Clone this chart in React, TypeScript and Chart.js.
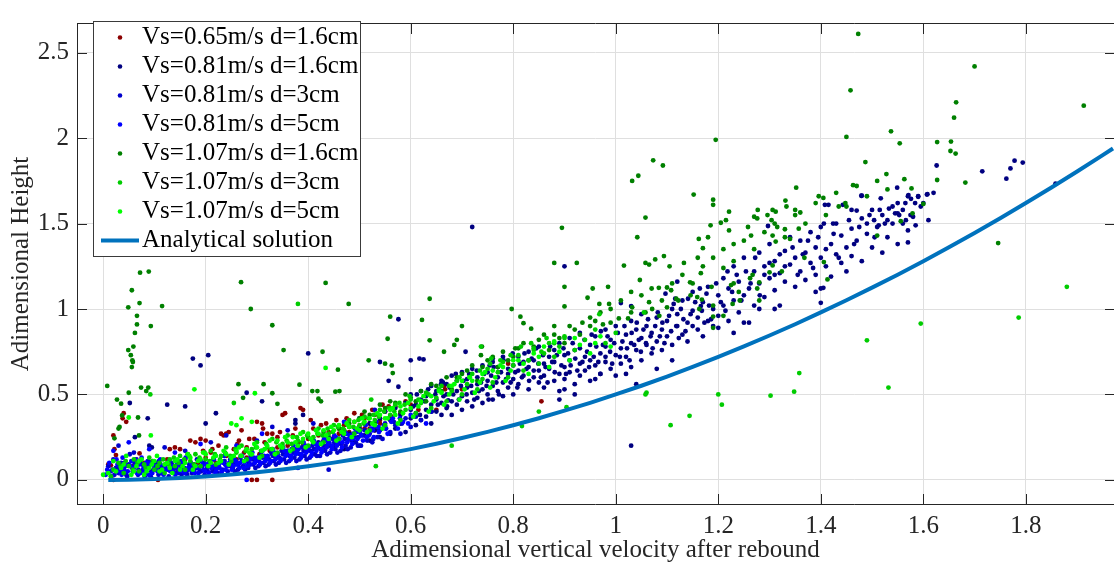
import { useEffect, useRef } from "react";
import { Chart, registerables } from "chart.js";

Chart.register(...registerables);

// ---------- tick values / labels ----------
const xTickValues = [0, 0.2, 0.4, 0.6, 0.8, 1, 1.2, 1.4, 1.6, 1.8];
const xTickLabels = ["0", "0.2", "0.4", "0.6", "0.8", "1", "1.2", "1.4", "1.6", "1.8"];
const yTickValues = [0, 0.5, 1, 1.5, 2, 2.5];
const yTickLabels = ["0", "0.5", "1", "1.5", "2", "2.5"];

const xTitle = "Adimensional vertical velocity after rebound";
const yTitle = "Adimensional Height";

const seriesLabels = [
  "Vs=0.65m/s d=1.6cm",
  "Vs=0.81m/s d=1.6cm",
  "Vs=0.81m/s d=3cm",
  "Vs=0.81m/s d=5cm",
  "Vs=1.07m/s d=1.6cm",
  "Vs=1.07m/s d=3cm",
  "Vs=1.07m/s d=5cm",
];
const lineLabel = "Analytical solution";

// ---------- data ----------
const vs065d16: number[][] = [
[0.01,0.09],[0.015,0.085],[0.02,0.26],[0.022,0.18],[0.025,0.145],[0.02,0.0],[0.04,0.39],[0.045,0.34],[0.038,0.36],[0.056,0.08],[0.065,0.12],[0.071,0.155],[0.08,0.1],[0.09,0.105],[0.1,0.095],[0.107,0.0],[0.12,0.07],[0.13,0.18],[0.14,0.19],[0.15,0.18],[0.145,0.05],[0.16,0.12],[0.17,0.23],[0.18,0.22],[0.185,0.1],[0.19,0.24],[0.2,0.23],[0.2,0.13],[0.21,0.16],[0.213,0.18],[0.22,0.1],[0.23,0.27],[0.235,0.26],[0.24,0.27],[0.245,0.28],[0.24,0.14],[0.25,0.08],[0.26,0.12],[0.265,0.23],[0.27,0.29],[0.275,0.16],[0.28,0.13],[0.285,0.24],[0.29,0.0],[0.295,0.24],[0.3,0.34],[0.3,0.0],[0.305,0.15],[0.31,0.33],[0.312,0.3],[0.32,0.27],[0.325,0.17],[0.33,0.27],[0.33,0.0],[0.335,0.14],[0.34,0.19],[0.35,0.38],[0.355,0.39],[0.355,0.16],[0.36,0.2],[0.365,0.14],[0.37,0.18],[0.38,0.22],[0.385,0.42],[0.39,0.41],[0.39,0.21],[0.395,0.19],[0.4,0.24],[0.405,0.35],[0.41,0.21],[0.42,0.26],[0.43,0.23],[0.44,0.28],[0.44,0.2],[0.45,0.25],[0.46,0.3],[0.46,0.27],[0.47,0.29],[0.47,0.32],[0.48,0.31],[0.48,0.28],[0.49,0.34],[0.5,0.29],[0.5,0.31],[0.51,0.3],[0.51,0.36],[0.52,0.3],[0.52,0.33],[0.53,0.29],[0.53,0.38],[0.54,0.33],[0.54,0.35],[0.55,0.4],[0.557,0.43],[0.56,0.37],[0.563,0.37],[0.57,0.43],[0.58,0.39],[0.59,0.46],[0.6,0.44],[0.615,0.41],[0.65,0.41],[0.665,0.55],[0.667,0.53],[0.7,0.53],[0.79,0.68],[0.855,0.46],
[0.105,0.06],[0.125,0.12],[0.155,0.1],[0.165,0.15],[0.175,0.08],[0.195,0.17],[0.215,0.12],[0.225,0.2],[0.255,0.18],[0.262,0.21],[0.28,0.19],[0.315,0.22],[0.34,0.25],[0.345,0.28],[0.37,0.26],[0.375,0.3],[0.41,0.3],[0.425,0.32],[0.435,0.33],[0.455,0.35],[0.475,0.36],[0.49,0.39],[0.505,0.38],[0.525,0.41],[0.545,0.44],[0.465,0.21],[0.43,0.19]
];

const vs081d16: number[][] = [
[0.052,0.45],[0.087,0.36],[0.062,0.25],[0.09,0.2],[0.095,0.19],[0.125,0.44],[0.16,0.43],[0.175,0.71],[0.19,0.67],[0.205,0.73],[0.2,0.33],[0.22,0.39],[0.28,0.51],[0.31,0.46],[0.375,0.35],[0.375,0.33],[0.39,0.38],[0.4,0.74],
[0.3,0.12],[0.33,0.15],[0.36,0.17],[0.38,0.2],[0.4,0.19],[0.42,0.22],[0.43,0.18],[0.44,0.25],
[0.45,0.2],[0.46,0.24],[0.47,0.18],[0.48,0.27],[0.49,0.22],[0.5,0.3],[0.5,0.2],[0.51,0.26],[0.52,0.33],[0.52,0.23],[0.53,0.29],[0.54,0.36],[0.54,0.25],[0.55,0.31],[0.55,0.4],
[0.56,0.27],[0.56,0.35],[0.57,0.42],[0.57,0.3],[0.58,0.38],[0.58,0.33],[0.59,0.45],[0.59,0.28],[0.6,0.36],[0.6,0.41],[0.6,0.5],[0.61,0.32],[0.61,0.44],[0.61,0.39],[0.62,0.47],[0.62,0.35],[0.62,0.52],[0.63,0.41],[0.63,0.37],[0.63,0.49],[0.64,0.44],[0.64,0.55],[0.64,0.33],[0.65,0.4],[0.65,0.47],[0.65,0.52],[0.66,0.38],[0.66,0.58],[0.66,0.45],[0.67,0.5],
[0.67,0.42],[0.67,0.56],[0.68,0.46],[0.68,0.61],[0.68,0.38],[0.69,0.52],[0.69,0.44],[0.69,0.58],[0.7,0.49],[0.7,0.41],[0.7,0.63],[0.71,0.54],[0.71,0.46],[0.71,0.59],[0.72,0.51],[0.72,0.43],[0.72,0.65],[0.73,0.56],[0.73,0.48],[0.73,0.6],[0.74,0.53],[0.74,0.45],[0.74,0.67],[0.75,0.58],[0.75,0.5],[0.75,0.63],[0.76,0.55],[0.76,0.47],[0.76,0.69],[0.77,0.6],[0.77,0.52],[0.77,0.66],[0.78,0.57],[0.78,0.49],[0.78,0.72],
[0.79,0.62],[0.79,0.54],[0.8,0.67],[0.8,0.59],[0.8,0.5],[0.81,0.64],[0.81,0.72],[0.81,0.56],[0.82,0.61],[0.82,0.69],[0.83,0.53],[0.83,0.66],[0.83,0.75],[0.84,0.6],[0.84,0.7],[0.85,0.57],[0.85,0.64],[0.85,0.78],[0.86,0.68],[0.86,0.61],[0.86,0.54],[0.87,0.72],[0.87,0.65],[0.88,0.58],[0.88,0.76],[0.88,0.69],[0.89,0.62],[0.89,0.8],[0.89,0.52],[0.9,0.66],[0.9,0.73],[0.9,0.59],[0.91,0.7],[0.91,0.83],[0.91,0.63],[0.92,0.56],[0.92,0.76],[0.93,0.68],[0.93,0.61],[0.93,0.86],
[0.94,0.72],[0.94,0.64],[0.95,0.79],[0.95,0.58],[0.95,0.7],[0.96,0.67],[0.96,0.84],[0.97,0.74],[0.97,0.62],[0.98,0.78],[0.98,0.69],[0.98,0.88],[0.99,0.65],[0.99,0.82],[1.0,0.73],[1.0,0.9],[1.0,0.61],[1.01,0.77],[1.01,0.68],[1.02,0.85],[1.02,0.72],[1.03,0.8],[1.03,0.93],[1.03,0.66],[1.04,0.76],[1.04,0.88],[1.05,0.7],[1.05,0.83],[1.05,0.97],[1.06,0.79],[1.06,0.9],[1.07,0.74],[1.07,0.86],[1.08,0.95],[1.08,0.81],
[1.09,0.88],[1.09,0.76],[1.1,0.93],[1.1,0.84],[1.11,1.0],[1.11,0.79],[1.12,0.9],[1.12,0.97],[1.13,0.85],[1.13,1.05],[1.14,0.92],[1.14,0.81],[1.15,0.99],[1.15,1.1],[1.16,0.88],[1.16,0.95],[1.17,1.04],[1.17,0.84],[1.18,0.93],[1.18,1.13],[1.19,1.0],[1.19,0.9],[1.2,1.08],[1.2,0.96],[1.21,1.18],[1.21,1.02],[1.22,0.93],[1.22,1.12],[1.23,1.05],[1.23,1.25],[1.24,0.98],[1.24,1.16],[1.25,1.08],[1.25,0.92],[1.25,1.3],
[1.26,1.12],[1.27,1.02],[1.27,1.22],[1.28,1.15],[1.28,1.33],[1.29,1.07],[1.29,1.25],[1.3,1.18],[1.3,1.38],[1.31,1.11],[1.31,1.28],[1.32,1.21],[1.32,1.02],[1.33,1.34],[1.33,1.16],[1.34,1.26],[1.34,1.42],[1.35,1.13],[1.35,1.3],[1.36,1.22],[1.36,1.4],[1.37,1.17],[1.37,1.33],[1.38,1.27],[1.38,1.45],[1.39,1.2],[1.39,1.36],[1.4,1.3],[1.4,1.12],[1.4,1.48],
[1.41,1.25],[1.42,1.38],[1.42,1.19],[1.43,1.32],[1.43,1.5],[1.44,1.27],[1.44,1.43],[1.45,1.36],[1.45,1.22],[1.46,1.47],[1.46,1.31],[1.47,1.4],[1.48,1.53],[1.48,1.28],[1.49,1.44],[1.5,1.36],[1.5,1.58],[1.51,1.48],[1.52,1.33],[1.52,1.55],[1.53,1.42],[1.54,1.6],[1.54,1.5],[1.55,1.38],[1.56,1.58],[1.57,1.46],[1.58,1.54],[1.6,1.62],[1.61,1.52],[1.62,1.68],
[0.605,0.43],[0.612,0.5],[0.618,0.38],[0.627,0.46],[0.634,0.53],[0.641,0.4],[0.648,0.5],[0.653,0.44],[0.659,0.56],[0.664,0.49],[0.671,0.43],[0.676,0.54],[0.683,0.5],[0.688,0.62],[0.694,0.47],[0.698,0.55],[0.703,0.58],[0.709,0.5],[0.714,0.62],[0.718,0.55],[0.724,0.47],[0.729,0.64],[0.733,0.52],[0.737,0.57],[0.743,0.62],[0.748,0.55],[0.752,0.47],[0.757,0.61],[0.762,0.66],[0.767,0.57],[0.772,0.5],[0.776,0.63],[0.781,0.7],[0.786,0.59],[0.79,0.65],[0.795,0.57],[0.799,0.74],[0.804,0.63],[0.808,0.54],[0.813,0.68],[0.817,0.6],[0.822,0.74],[0.826,0.65],[0.831,0.58],[0.836,0.71],[0.84,0.64],[0.845,0.77],[0.849,0.68],[0.854,0.6],[0.858,0.73],[0.863,0.66],[0.867,0.57],[0.872,0.78],[0.876,0.69],[0.881,0.63],[0.885,0.73],[0.894,0.67],[0.898,0.77],[0.903,0.62],[0.907,0.74],[0.912,0.67],[0.916,0.8],[0.921,0.71],[0.925,0.64],[0.93,0.77],[0.935,0.69],[0.939,0.82],[0.944,0.75],[0.948,0.66],[0.953,0.85],[0.957,0.72],[0.962,0.78],[0.966,0.69],[0.971,0.87],[0.975,0.79],[0.98,0.72],[0.984,0.84],[0.989,0.75],[0.993,0.68],[0.997,0.8],[1.004,0.86],[1.008,0.72],[1.013,0.81],[1.017,0.9],[1.022,0.77],[1.027,0.7],[1.031,0.86],[1.036,0.79],[1.041,0.92],[1.045,0.82],[1.049,0.75],[1.054,0.88],[1.059,0.8],[1.063,0.94],[1.068,0.84],[1.072,0.77],[1.077,0.9],[1.082,0.98],[1.086,0.84],[1.091,0.92],[1.095,0.8],[1.104,0.96],[1.108,0.87],[1.113,1.03],[1.118,0.9],[1.123,0.83],[1.127,1.0],[1.132,0.94],[1.136,0.87],[1.141,1.06],[1.146,0.97],[1.15,0.9],[1.155,1.04],[1.164,1.12],[1.168,0.99],[1.173,0.92],[1.177,1.09],[1.182,1.02],[1.186,0.94],[1.196,1.15],[1.205,1.04],[1.214,0.99],[1.218,1.22],[1.227,1.1],[1.236,1.2],[1.245,1.05],[1.254,1.22],[1.263,1.15],[1.272,1.3],[1.281,1.08],[1.29,1.2],[1.3,1.27],[1.31,1.2],[1.32,1.32],[1.33,1.25],[1.345,1.36],[1.355,1.2],[1.365,1.32],[1.375,1.4],[1.385,1.24],[1.395,1.42],[1.41,1.35],[1.425,1.44],[1.435,1.3],[1.455,1.52],[1.465,1.38],[1.475,1.48],[1.495,1.55],[1.505,1.42],[1.515,1.58],[1.525,1.5],[1.545,1.56],[1.565,1.62],[1.575,1.55],[1.595,1.6],
[0.54,0.69],[0.557,0.58],[0.576,0.545],[0.576,0.94],[0.6,0.59],[0.6,0.7],[0.617,0.71],[0.625,0.705],[0.663,0.57],[0.673,0.465],[0.707,0.75],[0.72,1.48],[0.754,0.67],[0.76,0.71],[0.9,1.25],[1.01,1.035],[1.03,1.017],[1.097,1.09],[1.116,1.06],[1.12,1.16],[1.04,0.56],[1.02,0.62],[1.03,0.2],[1.11,0.7],[1.08,0.65],[1.23,0.86],[1.26,0.92],[1.2,0.89],[1.31,1.0],[1.28,1.0],[0.92,0.5],[0.89,0.47],[0.9,0.53],[0.96,0.59],[0.97,0.62],[1.166,1.017],[1.39,1.1],[1.405,1.124],[1.4,1.036],[1.297,1.486],[1.406,1.5],[1.424,1.5],[1.49,1.5],[1.504,1.52],[1.513,1.49],[1.53,1.52],[1.48,1.663],
[1.57,1.39],[1.585,1.49],[1.55,1.62],[1.57,1.66],[1.576,1.645],[1.584,1.62],[1.59,1.66],[1.607,1.67],[1.55,1.56],[1.553,1.55],[1.56,1.5],[1.566,1.52],[1.408,1.61],[1.415,1.61],[1.443,1.61],[1.46,1.58],[1.47,1.576],[1.479,1.663],[1.517,1.648],[1.533,1.588],[1.549,1.71],[1.571,1.667],[1.59,1.657],[1.608,1.672],[1.626,1.84],[1.715,1.806],[1.762,1.763],[1.77,1.823],[1.778,1.868],[1.794,1.857],[1.858,1.734]
];

const vs081d3: number[][] = [
[0.01,0.08],[0.015,0.05],[0.02,0.12],[0.025,0.07],[0.03,0.04],[0.035,0.1],[0.04,0.06],[0.045,0.03],[0.05,0.09],[0.052,0.15],[0.058,0.05],[0.063,0.08],[0.068,0.03],[0.072,0.11],[0.078,0.06],[0.083,0.04],[0.088,0.08],[0.093,0.02],[0.098,0.06],[0.103,0.1],[0.108,0.03],[0.113,0.07],[0.118,0.05],[0.123,0.09],[0.128,0.02],[0.133,0.06],[0.138,0.04],[0.143,0.08],[0.148,0.11],[0.153,0.03],[0.158,0.07],[0.163,0.05],[0.168,0.09],[0.173,0.04],[0.178,0.06],[0.183,0.12],[0.188,0.05],[0.193,0.08],[0.198,0.03],[0.203,0.07],[0.208,0.1],[0.213,0.05],[0.218,0.08],[0.223,0.04],[0.228,0.11],[0.233,0.06],[0.238,0.09],[0.243,0.05],[0.248,0.12],[0.253,0.07],[0.258,0.1],[0.263,0.06],[0.268,0.13],[0.273,0.08],[0.278,0.11],[0.283,0.07],[0.288,0.14],[0.293,0.09],[0.298,0.12],[0.303,0.08],[0.308,0.15],[0.313,0.1],[0.318,0.13],[0.323,0.09],[0.328,0.16],[0.333,0.11],[0.338,0.14],[0.343,0.1],[0.348,0.17],[0.353,0.12],[0.358,0.15],[0.363,0.11],[0.368,0.18],[0.373,0.13],[0.378,0.16],[0.383,0.12],[0.388,0.19],[0.393,0.14],[0.398,0.17],[0.403,0.13],[0.408,0.2],[0.413,0.15],[0.418,0.19],[0.423,0.14],[0.428,0.22],[0.433,0.17],[0.438,0.2],[0.443,0.16],[0.448,0.24],[0.453,0.18],[0.458,0.22],[0.463,0.17],[0.468,0.26],[0.473,0.2],[0.478,0.24],[0.483,0.19],[0.488,0.27],[0.493,0.22],[0.498,0.25],[0.503,0.2],[0.51,0.29],[0.515,0.23],[0.52,0.27],[0.525,0.22],[0.53,0.31],[0.535,0.25],[0.54,0.29],[0.545,0.24],[0.55,0.33],[0.56,0.28],[0.57,0.32],[0.58,0.27],[0.59,0.36],[0.6,0.31],[0.62,0.35],[0.64,0.4],
[0.03,0.2],[0.06,0.16],[0.12,0.19],[0.16,0.17],[0.21,0.22],[0.24,0.26],[0.3,0.23],[0.33,0.31],[0.36,0.29],[0.41,0.33],[0.44,0.06],[0.53,0.41],
[0.022,0.03],[0.031,0.07],[0.042,0.1],[0.047,0.02],[0.057,0.07],[0.061,0.1],[0.069,0.06],[0.076,0.09],[0.081,0.02],[0.087,0.11],[0.094,0.05],[0.101,0.07],[0.109,0.11],[0.114,0.04],[0.119,0.08],[0.127,0.06],[0.134,0.1],[0.139,0.07],[0.147,0.04],[0.152,0.07],[0.157,0.1],[0.164,0.03],[0.171,0.07],[0.177,0.09],[0.184,0.07],[0.191,0.05],[0.197,0.1],[0.204,0.05],[0.211,0.09],[0.217,0.06],[0.224,0.08],[0.231,0.04],[0.237,0.11],[0.244,0.08],[0.251,0.1],[0.257,0.05],[0.264,0.09],[0.271,0.11],[0.277,0.06],[0.284,0.1],[0.291,0.12],[0.297,0.07],[0.304,0.11],[0.311,0.13],[0.317,0.08],[0.324,0.12],[0.331,0.14],[0.337,0.09],[0.344,0.13],[0.351,0.15],[0.357,0.1],[0.364,0.14],[0.371,0.16],[0.377,0.11],[0.384,0.15],[0.391,0.17],[0.397,0.12],[0.404,0.17],[0.411,0.18],[0.417,0.14],[0.424,0.18],[0.431,0.2],[0.437,0.15],[0.444,0.2],[0.451,0.22],[0.457,0.16],[0.464,0.21],[0.471,0.24],[0.477,0.18],[0.484,0.23],[0.491,0.25],[0.497,0.2],[0.506,0.26],[0.517,0.28],[0.527,0.24],[0.538,0.3],[0.552,0.3],[0.567,0.34],[0.583,0.33],[0.61,0.37]
];

const vs081d5: number[][] = [
[0.005,0.03],[0.012,0.1],[0.018,0.06],[0.028,0.09],[0.033,0.05],[0.038,0.13],[0.043,0.08],[0.048,0.05],[0.055,0.11],[0.06,0.07],[0.066,0.04],[0.07,0.09],[0.075,0.13],[0.08,0.05],[0.086,0.07],[0.091,0.1],[0.096,0.04],[0.1,0.08],[0.106,0.05],[0.111,0.12],[0.116,0.04],[0.121,0.07],[0.126,0.1],[0.131,0.05],[0.136,0.08],[0.141,0.03],[0.146,0.06],[0.151,0.09],[0.156,0.05],[0.161,0.13],[0.166,0.07],[0.171,0.1],[0.176,0.05],[0.181,0.08],[0.186,0.04],[0.191,0.11],[0.196,0.06],[0.201,0.09],[0.206,0.04],[0.211,0.07],[0.216,0.12],[0.221,0.06],[0.226,0.09],[0.231,0.05],[0.236,0.14],[0.241,0.08],[0.246,0.1],[0.251,0.06],[0.256,0.12],[0.261,0.09],[0.266,0.07],[0.271,0.14],[0.276,0.1],[0.281,0.08],[0.286,0.12],[0.291,0.16],[0.296,0.1],[0.301,0.13],[0.306,0.09],[0.311,0.17],[0.316,0.11],[0.321,0.14],[0.326,0.1],[0.331,0.18],[0.336,0.12],[0.341,0.15],[0.346,0.11],[0.351,0.19],[0.356,0.14],[0.361,0.17],[0.366,0.12],[0.371,0.2],[0.376,0.15],[0.381,0.18],[0.386,0.13],[0.391,0.22],[0.396,0.16],[0.401,0.19],[0.406,0.14],[0.411,0.23],[0.416,0.17],[0.421,0.21],[0.426,0.16],[0.431,0.24],[0.436,0.19],[0.441,0.22],[0.446,0.18],[0.451,0.26],[0.456,0.2],[0.461,0.24],[0.466,0.19],[0.471,0.28],[0.476,0.22],[0.481,0.26],[0.486,0.21],[0.491,0.3],[0.496,0.24],[0.501,0.28],[0.507,0.23],[0.512,0.32],[0.518,0.26],[0.523,0.3],[0.528,0.25],[0.533,0.34],[0.538,0.28],[0.548,0.32],[0.555,0.27],[0.565,0.36],[0.575,0.3],[0.585,0.34],[0.6,0.38],[0.63,0.33],
[0.28,0.0],[0.02,0.17],[0.05,0.22],[0.09,0.18],[0.14,0.16],[0.19,0.21],[0.26,0.2],[0.31,0.27],[0.38,0.07],[0.47,0.34],[0.5,0.36],
[0.008,0.06],[0.016,0.02],[0.026,0.12],[0.036,0.03],[0.041,0.06],[0.053,0.08],[0.064,0.12],[0.073,0.04],[0.079,0.07],[0.084,0.1],[0.089,0.03],[0.097,0.11],[0.104,0.06],[0.112,0.09],[0.118,0.03],[0.124,0.06],[0.129,0.11],[0.137,0.05],[0.144,0.09],[0.149,0.05],[0.154,0.11],[0.159,0.04],[0.167,0.06],[0.174,0.09],[0.179,0.04],[0.187,0.07],[0.194,0.09],[0.199,0.05],[0.207,0.1],[0.214,0.08],[0.219,0.04],[0.227,0.07],[0.234,0.1],[0.239,0.06],[0.247,0.09],[0.254,0.08],[0.259,0.11],[0.267,0.1],[0.274,0.07],[0.279,0.12],[0.287,0.09],[0.294,0.13],[0.299,0.11],[0.307,0.1],[0.314,0.14],[0.319,0.12],[0.327,0.11],[0.334,0.16],[0.339,0.13],[0.347,0.12],[0.354,0.17],[0.359,0.15],[0.367,0.14],[0.374,0.18],[0.379,0.16],[0.387,0.15],[0.394,0.2],[0.399,0.18],[0.407,0.16],[0.414,0.21],[0.419,0.19],[0.427,0.18],[0.434,0.23],[0.439,0.21],[0.447,0.2],[0.454,0.25],[0.459,0.22],[0.467,0.22],[0.474,0.27],[0.479,0.24],[0.487,0.24],[0.494,0.28],[0.503,0.26],[0.514,0.25],[0.526,0.29],[0.537,0.31],[0.551,0.3],[0.562,0.34],[0.579,0.36],[0.595,0.33]
];

const vs107d16: number[][] = [
[0.008,0.55],[0.022,0.243],[0.027,0.47],[0.032,0.31],[0.03,0.3],[0.035,0.446],[0.037,0.377],[0.049,0.76],[0.049,1.01],[0.05,0.51],[0.054,0.73],[0.056,1.11],[0.057,0.7],[0.058,0.69],[0.056,0.66],[0.059,0.78],[0.062,0.86],[0.066,0.96],[0.066,0.91],[0.068,0.365],[0.07,0.26],[0.071,1.035],[0.072,1.213],[0.074,0.54],[0.084,0.52],[0.088,0.54],[0.089,1.219],[0.093,0.9],[0.115,1.017],[0.264,0.56],[0.269,1.157],[0.273,0.48],[0.288,1.0],[0.313,0.56],[0.33,0.905],[0.33,0.507],[0.34,0.445],[0.352,0.76],[0.383,0.557],[0.408,0.52],[0.418,0.52],[0.42,0.475],[0.425,0.46],[0.428,0.75],[0.434,1.153],[0.453,0.516],[0.458,0.645],[0.461,0.52],[0.479,1.03],[0.518,0.7],[0.55,0.68],[0.555,0.826],[0.56,0.955],[0.563,0.67],[0.565,0.625],[0.622,0.936],[0.637,1.06],[0.637,0.817],[0.665,0.75],[0.685,0.79],[0.69,0.82],[0.7,0.9],[0.737,0.73],[0.739,0.78],[0.797,1.0],[0.804,0.77],[0.814,0.955],[0.82,0.917],[0.835,0.885],[0.88,0.9],[0.88,1.27],[0.895,1.475],[0.9,1.13],[0.9,1.015],[0.924,1.27],[0.945,1.066],[0.955,1.12],[0.968,1.03],[0.985,1.13],[0.987,1.03],[1.016,1.254],[1.03,1.1],[1.032,1.75],[1.042,1.42],[1.044,1.78],[1.047,1.17],[1.058,1.535],[1.058,1.27],[1.065,1.26],[1.065,1.04],[1.073,1.87],[1.077,1.29],[1.084,1.124],[1.092,1.84],[1.094,1.31],[1.1,1.126],[1.105,1.25],[1.108,1.11],[1.118,1.06],[1.133,1.27],[1.145,1.156],[1.152,1.67],[1.16,1.3],[1.162,1.41],[1.166,1.21],[1.17,1.356],[1.18,1.42],[1.185,1.49],[1.187,1.13],[1.19,1.64],[1.19,1.61],[1.19,1.02],[1.19,0.956],[1.19,0.89],[1.195,1.99],[1.205,1.505],[1.21,0.96],[1.21,1.24],[1.215,1.52],[1.221,1.57],[1.221,1.46],[1.225,1.14],[1.23,1.38],[1.23,1.15],[1.24,1.1],[1.242,1.05],[1.258,1.48],[1.262,1.18],[1.264,1.43],[1.267,1.2],[1.27,1.54],[1.276,1.53],[1.276,1.12],[1.277,1.58],[1.28,1.156],[1.28,1.05],[1.296,1.55],[1.3,1.215],[1.304,1.52],[1.306,1.58],[1.306,1.43],[1.306,1.255],[1.312,1.57],[1.312,1.395],[1.315,1.48],[1.324,1.22],[1.33,1.467],[1.331,1.635],[1.333,1.6],[1.34,1.41],[1.35,1.55],[1.352,1.71],[1.357,1.47],[1.36,1.565],[1.368,1.3],[1.396,1.66],[1.405,1.65],[1.406,1.275],[1.413,1.173],[1.435,1.6],[1.448,1.62],[1.45,2.007],[1.458,2.28],[1.463,1.725],[1.473,2.61],[1.487,1.86],[1.51,1.43],[1.528,1.79],[1.537,2.04],[1.554,1.97],[1.556,1.514],[1.563,1.76],[1.577,1.706],[1.579,1.56],[1.6,1.615],[1.627,1.977],[1.627,1.755],[1.654,1.98],[1.653,1.925],[1.66,2.12],[1.663,1.91],[1.664,2.21],[1.682,1.74],[1.7,2.42],[1.746,1.386],[1.913,2.19],
[0.935,0.92],[0.95,0.9],[0.96,0.93],[0.975,0.91],[0.99,0.92],[1.006,0.945],[1.024,0.945],[1.032,1.01],[1.058,0.98],[1.071,1.0],[1.085,0.96],[1.1,1.01],[1.122,1.05],[1.146,1.08],[1.159,1.07],[1.163,1.0],[1.168,1.055],[1.228,1.03],
[0.4,0.25],[0.43,0.28],[0.46,0.3],[0.48,0.33],[0.5,0.36],[0.52,0.38],[0.53,0.33],[0.55,0.42],[0.57,0.45],[0.58,0.4],[0.6,0.48],[0.62,0.52],[0.63,0.46],[0.65,0.55],[0.67,0.6],[0.68,0.53],[0.7,0.62],[0.72,0.67],[0.73,0.58],[0.75,0.7],[0.77,0.66],[0.78,0.75],[0.8,0.72],[0.82,0.8],[0.83,0.7],[0.85,0.82],[0.87,0.76],[0.88,0.85],[0.9,0.8],[0.92,0.88],
[0.51,0.4],[0.54,0.44],[0.56,0.46],[0.59,0.5],[0.61,0.46],[0.64,0.56],[0.66,0.52],[0.69,0.6],[0.71,0.64],[0.74,0.66],[0.76,0.72],[0.79,0.7],[0.81,0.77],[0.84,0.78],[0.86,0.85],[0.89,0.83],[0.91,0.9],[0.93,0.85],[0.95,0.95],[0.97,0.98],[0.99,1.0],[1.01,1.05],[1.03,0.98],[1.05,1.08],[1.07,1.12],[1.09,1.05],[1.11,1.15],[1.13,1.2],[1.15,1.15],[1.17,1.25],[1.19,1.3],[1.21,1.35],[1.23,1.28],[1.25,1.4],[1.27,1.35],[1.29,1.45],[1.31,1.5],[1.33,1.42],[1.35,1.58],[1.37,1.5],[1.39,1.62],[1.41,1.55],[1.43,1.68],[1.45,1.6],[1.47,1.72],[1.49,1.66],[1.51,1.75],[1.53,1.7]
];

const vs107d3: number[][] = [
[0.02,0.06],[0.03,0.1],[0.04,0.04],[0.05,0.08],[0.06,0.12],[0.07,0.05],[0.08,0.09],[0.09,0.13],[0.1,0.06],[0.11,0.1],[0.12,0.04],[0.13,0.12],[0.14,0.08],[0.15,0.14],[0.16,0.06],[0.17,0.11],[0.18,0.15],[0.19,0.08],[0.2,0.12],[0.21,0.17],[0.22,0.09],[0.23,0.14],[0.24,0.19],[0.25,0.11],[0.26,0.16],[0.27,0.2],[0.28,0.12],[0.29,0.18],[0.3,0.22],[0.31,0.14],[0.32,0.19],[0.33,0.24],[0.34,0.16],[0.35,0.21],[0.36,0.26],[0.37,0.18],[0.38,0.23],[0.39,0.28],[0.4,0.2],[0.41,0.25],[0.42,0.3],[0.43,0.22],[0.44,0.27],[0.45,0.32],[0.46,0.24],[0.47,0.29],[0.48,0.35],[0.49,0.27],[0.5,0.32],[0.51,0.37],[0.52,0.29],[0.53,0.35],[0.54,0.41],[0.55,0.32],[0.56,0.38],[0.57,0.44],[0.58,0.35],[0.59,0.41],[0.6,0.47],[0.61,0.39],[0.62,0.45],[0.63,0.51],[0.64,0.42],[0.65,0.48],[0.66,0.55],[0.67,0.46],[0.68,0.52],[0.69,0.58],[0.7,0.5],[0.71,0.56],[0.72,0.62],[0.73,0.53],[0.74,0.59],[0.75,0.65],[0.76,0.57],[0.77,0.63],[0.78,0.69],[0.79,0.6],[0.8,0.67],[0.81,0.73],[0.82,0.64],[0.83,0.7],[0.84,0.77],[0.85,0.68],[0.86,0.74],[0.87,0.8],[0.88,0.72],[0.89,0.78],[0.9,0.84],[0.92,0.76],[0.94,0.82],[0.96,0.88],[0.98,0.8],[1.0,0.86],
[0.092,0.5],[0.255,0.45],[0.38,1.03],[0.523,0.47],[0.737,0.78],[0.757,0.71],[0.84,0.76],[0.855,0.75],[0.88,0.8],[0.9,0.83],[0.968,0.97],[1.055,0.98],[1.06,0.51],
[1.058,0.5],[1.107,0.32],[1.144,0.375],[1.2,0.5],[1.207,0.44],[1.302,0.493],[1.348,0.516],[1.358,0.625],[1.49,0.817],[1.532,0.54],[1.595,0.915],[1.786,0.95],[1.88,1.13],[0.904,0.425],[0.85,0.4],[0.817,0.315],[0.68,0.2],[0.532,0.08],
[0.015,0.02],[0.034,0.08],[0.044,0.11],[0.058,0.06],[0.067,0.1],[0.083,0.07],[0.097,0.11],[0.106,0.08],[0.117,0.12],[0.128,0.09],[0.138,0.13],[0.147,0.1],[0.158,0.12],[0.168,0.14],[0.177,0.09],[0.188,0.13],[0.198,0.16],[0.208,0.11],[0.218,0.15],[0.228,0.12],[0.238,0.16],[0.248,0.14],[0.258,0.18],[0.268,0.14],[0.278,0.17],[0.288,0.15],[0.298,0.19],[0.308,0.17],[0.318,0.21],[0.328,0.18],[0.338,0.22],[0.348,0.19],[0.358,0.23],[0.368,0.21],[0.378,0.25],[0.388,0.22],[0.398,0.26],[0.408,0.23],[0.418,0.27],[0.428,0.26],[0.438,0.3],[0.448,0.28],[0.458,0.31],[0.468,0.3],[0.478,0.32],[0.488,0.31],[0.498,0.35],[0.508,0.33],[0.518,0.36],[0.528,0.38],[0.538,0.37],[0.548,0.4],[0.558,0.42],[0.568,0.4],[0.578,0.45],[0.588,0.44],[0.598,0.49],[0.615,0.47],[0.635,0.5],[0.655,0.53],[0.675,0.55],[0.695,0.6],[0.715,0.6],[0.735,0.64],[0.755,0.68],[0.775,0.7],[0.795,0.73],[0.815,0.78],[0.835,0.8],[0.865,0.83]
];

const vs107d5: number[][] = [
[0.01,0.04],[0.02,0.11],[0.035,0.07],[0.045,0.14],[0.055,0.03],[0.065,0.08],[0.075,0.12],[0.085,0.05],[0.095,0.09],[0.105,0.14],[0.115,0.06],[0.125,0.1],[0.135,0.04],[0.145,0.12],[0.155,0.08],[0.165,0.15],[0.175,0.06],[0.185,0.11],[0.195,0.16],[0.205,0.08],[0.215,0.13],[0.225,0.1],[0.235,0.17],[0.245,0.09],[0.255,0.14],[0.265,0.19],[0.275,0.11],[0.285,0.16],[0.295,0.21],[0.305,0.13],[0.315,0.18],[0.325,0.23],[0.335,0.15],[0.345,0.2],[0.355,0.25],[0.365,0.17],[0.375,0.22],[0.385,0.27],[0.395,0.19],[0.405,0.24],[0.415,0.29],[0.425,0.21],[0.435,0.26],[0.445,0.31],[0.455,0.23],[0.465,0.28],[0.475,0.33],[0.485,0.25],[0.495,0.3],[0.505,0.36],[0.515,0.28],[0.525,0.33],[0.535,0.39],[0.545,0.3],[0.555,0.36],[0.565,0.42],[0.575,0.33],[0.585,0.39],[0.595,0.45],[0.605,0.37],[0.615,0.43],[0.625,0.49],[0.635,0.4],[0.645,0.46],[0.655,0.52],[0.665,0.44],[0.675,0.5],[0.685,0.56],[0.695,0.47],[0.705,0.53],[0.715,0.6],[0.725,0.51],[0.735,0.57],[0.745,0.63],[0.755,0.54],[0.765,0.6],[0.775,0.67],[0.785,0.58],[0.795,0.64],[0.81,0.7],[0.83,0.62],[0.85,0.72],[0.87,0.66],[0.89,0.75],[0.91,0.7],[0.93,0.79],[0.95,0.74],[0.97,0.84],[0.99,0.78],
[0.0,0.03],[0.05,0.365],[0.093,0.26],[0.178,0.53],[0.296,0.507],[0.434,0.655],[0.25,0.33],[0.27,0.36],[0.26,0.32],[0.29,0.34],
[0.025,0.05],[0.04,0.09],[0.06,0.05],[0.07,0.11],[0.08,0.03],[0.09,0.07],[0.1,0.11],[0.11,0.05],[0.12,0.09],[0.13,0.07],[0.14,0.11],[0.15,0.06],[0.16,0.1],[0.17,0.13],[0.18,0.08],[0.19,0.12],[0.2,0.15],[0.21,0.1],[0.22,0.14],[0.23,0.11],[0.24,0.15],[0.25,0.13],[0.26,0.17],[0.27,0.14],[0.28,0.18],[0.29,0.15],[0.3,0.19],[0.31,0.17],[0.32,0.2],[0.33,0.18],[0.34,0.23],[0.35,0.19],[0.36,0.22],[0.37,0.25],[0.38,0.2],[0.39,0.24],[0.4,0.27],[0.41,0.22],[0.42,0.27],[0.43,0.29],[0.44,0.24],[0.45,0.29],[0.46,0.32],[0.47,0.27],[0.48,0.31],[0.49,0.34],[0.5,0.29],[0.51,0.34],[0.52,0.36],[0.53,0.32],[0.54,0.38],[0.55,0.36],[0.56,0.41],[0.57,0.38],[0.58,0.43],[0.6,0.42],[0.62,0.46],[0.64,0.49],[0.66,0.51],[0.68,0.55],[0.7,0.58],[0.72,0.58],[0.74,0.62],[0.76,0.64],[0.78,0.66],[0.8,0.7],[0.82,0.68],[0.84,0.74],[0.86,0.78],[0.88,0.81],[0.92,0.83],[0.96,0.8]
];

const analyticX = [0.01,0.05,0.1,0.15,0.2,0.25,0.3,0.35,0.4,0.45,0.5,0.55,0.6,0.65,0.7,0.75,0.8,0.85,0.9,0.95,1.0,1.05,1.1,1.15,1.2,1.25,1.3,1.35,1.4,1.45,1.5,1.55,1.6,1.65,1.7,1.75,1.8,1.85,1.9,1.95,1.97];
const analyticY = [0.0,0.001,0.005,0.011,0.02,0.031,0.045,0.061,0.08,0.101,0.125,0.151,0.18,0.211,0.245,0.281,0.32,0.361,0.405,0.451,0.5,0.551,0.605,0.661,0.72,0.781,0.845,0.911,0.98,1.051,1.125,1.201,1.28,1.361,1.445,1.531,1.62,1.711,1.805,1.901,1.94];

const seriesData = [vs065d16, vs081d16, vs081d3, vs081d5, vs107d16, vs107d3, vs107d5];

// ---------- styles ----------
const seriesColors = ["#8B0000", "#000080", "#0000CC", "#0000FF", "#008000", "#00CC00", "#00FF00"];
const lineColor = "#0072BD";
const axisColor = "#262626";
const gridColor = "#DFDFDF";
const FONT = "'Liberation Serif', 'Times New Roman', serif";
const FONT_SIZE = 25;

const framePlugin = {
  id: "frame",
  afterDatasetsDraw(chart: any) {
    const { ctx, chartArea: a, scales } = chart;
    ctx.save();
    ctx.strokeStyle = axisColor;
    ctx.lineWidth = 1;
    ctx.beginPath();
    for (const v of xTickValues) {
      const px = Math.round(scales.x.getPixelForValue(v)) + 0.5;
      ctx.moveTo(px, a.bottom);
      ctx.lineTo(px, a.bottom - 11);
      ctx.moveTo(px, a.top);
      ctx.lineTo(px, a.top + 11);
    }
    for (const v of yTickValues) {
      const py = Math.round(scales.y.getPixelForValue(v)) + 0.5;
      ctx.moveTo(a.left, py);
      ctx.lineTo(a.left + 10, py);
      ctx.moveTo(a.right, py);
      ctx.lineTo(a.right - 9, py);
    }
    ctx.moveTo(a.left + 0.5, a.top);
    ctx.lineTo(a.left + 0.5, a.bottom);
    ctx.moveTo(a.left, a.top + 0.5);
    ctx.lineTo(a.right, a.top + 0.5);
    ctx.moveTo(a.left, a.bottom - 0.5);
    ctx.lineTo(a.right, a.bottom - 0.5);
    ctx.stroke();

    // legend box
    const lx = 93, ly = 21, lw = 268, lh = 236;
    ctx.fillStyle = "#FFFFFF";
    ctx.fillRect(lx, ly, lw, lh);
    ctx.strokeStyle = "#3a3a3a";
    ctx.strokeRect(lx + 0.5, ly + 0.5, lw - 1, lh - 1);
    ctx.font = `${FONT_SIZE}px ${FONT}`;
    ctx.textBaseline = "middle";
    ctx.textAlign = "left";
    const rowY0 = 37.5, rowStep = 29;
    seriesLabels.forEach((label, i) => {
      const y = rowY0 + rowStep * i;
      ctx.fillStyle = seriesColors[i];
      ctx.beginPath();
      ctx.arc(120, y, 2.3, 0, Math.PI * 2);
      ctx.fill();
      ctx.fillStyle = "#000000";
      ctx.fillText(label, 142, y);
    });
    const yl = rowY0 + rowStep * seriesLabels.length;
    ctx.strokeStyle = lineColor;
    ctx.lineWidth = 4;
    ctx.beginPath();
    ctx.moveTo(101, yl);
    ctx.lineTo(139, yl);
    ctx.stroke();
    ctx.fillStyle = "#000000";
    ctx.fillText(lineLabel, 142, yl);
    ctx.restore();
  },
};

export default function App() {
  const ref = useRef<HTMLCanvasElement | null>(null);
  useEffect(() => {
    if (!ref.current) return;
    const scatterSets = seriesData.map((pts, i) => ({
      label: seriesLabels[i],
      data: pts.map(([x, y]) => ({ x, y })),
      backgroundColor: seriesColors[i],
      pointBackgroundColor: seriesColors[i],
      pointBorderWidth: 0,
      pointRadius: 2.4,
      showLine: false,
      order: 8 - i,
    }));
    const lineSet = {
      label: lineLabel,
      data: analyticX.map((x, i) => ({ x, y: analyticY[i] })),
      showLine: true,
      borderColor: lineColor,
      borderWidth: 4,
      pointRadius: 0,
      tension: 0,
      fill: false,
      order: 0,
    };
    const chart = new Chart(ref.current, {
      type: "scatter",
      data: { datasets: [...scatterSets, lineSet] as any },
      options: {
        animation: false,
        responsive: false,
        devicePixelRatio: 1,
        layout: { padding: { top: 6, right: 0, left: 0, bottom: 0 } },
        plugins: { legend: { display: false }, tooltip: { enabled: false } },
        scales: {
          x: {
            type: "linear",
            min: -0.051,
            max: 1.972,
            afterBuildTicks: (s: any) => {
              s.ticks = xTickValues.map((value) => ({ value }));
            },
            afterFit: (s: any) => {
              s.height = 63;
            },
            grid: { color: gridColor, lineWidth: 1, drawTicks: false },
            border: { display: false },
            ticks: {
              padding: 6,
              color: axisColor,
              font: { family: FONT, size: FONT_SIZE },
              maxRotation: 0,
              autoSkip: false,
              callback: (_v: any, i: number) => xTickLabels[i],
            },
            title: {
              display: true,
              text: xTitle,
              color: axisColor,
              font: { family: FONT, size: FONT_SIZE },
              padding: { top: 0, bottom: 3 },
            },
          },
          y: {
            type: "linear",
            min: -0.147,
            max: 2.674,
            afterBuildTicks: (s: any) => {
              s.ticks = yTickValues.map((value) => ({ value }));
            },
            afterFit: (s: any) => {
              s.width = 77;
            },
            grid: { color: gridColor, lineWidth: 1, drawTicks: false },
            border: { display: false },
            ticks: {
              padding: 8,
              color: axisColor,
              font: { family: FONT, size: FONT_SIZE },
              autoSkip: false,
              callback: (_v: any, i: number) => yTickLabels[i],
            },
            title: {
              display: true,
              text: yTitle,
              color: axisColor,
              font: { family: FONT, size: FONT_SIZE },
              padding: { top: 6, bottom: 0 },
            },
          },
        },
      },
      plugins: [framePlugin],
    });
    return () => chart.destroy();
  }, []);
  return (
    <div style={{ position: "absolute", left: 0, top: 0, width: 1118, height: 568, background: "#fff" }}>
      <canvas ref={ref} width={1118} height={568} style={{ display: "block" }} />
    </div>
  );
}
